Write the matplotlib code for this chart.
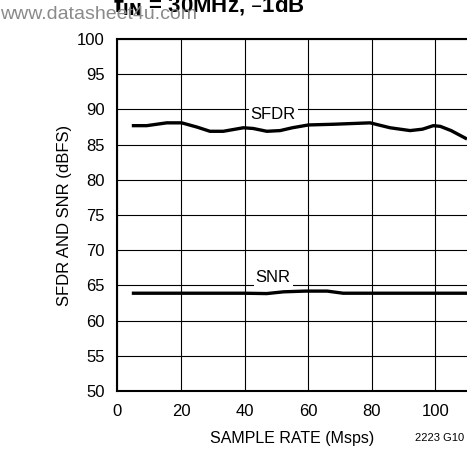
import matplotlib
matplotlib.use("Agg")
import matplotlib.pyplot as plt

plt.rcParams['font.family'] = ['Liberation Sans', 'DejaVu Sans']

# SFDR curve
sfdr_x = [4.5, 9.2, 15.5, 20.2, 25, 29.1, 33.3, 39.6, 42.7, 47, 51.2, 55, 60.1, 68, 79.5, 85.8, 92.1, 96, 99.4, 101.6, 105, 110]
sfdr_y = [87.7, 87.7, 88.1, 88.1, 87.5, 86.9, 86.9, 87.4, 87.3, 86.9, 87.0, 87.4, 87.8, 87.9, 88.1, 87.4, 87.0, 87.2, 87.7, 87.6, 87.0, 85.8]

# SNR curve
snr_x = [4.5, 20, 39.6, 47, 52.3, 59, 66, 71, 80, 100, 110]
snr_y = [63.9, 63.9, 63.9, 63.85, 64.1, 64.2, 64.2, 63.9, 63.9, 63.9, 63.9]

x_ticks = [0, 20, 40, 60, 80, 100]
y_ticks = [50, 55, 60, 65, 70, 75, 80, 85, 90, 95, 100]

fig = plt.figure(figsize=(4.67, 4.49), dpi=100)
ax = fig.add_axes([0.2516, 0.129, 0.7484, 0.784])

ax.plot(sfdr_x, sfdr_y, color='black', lw=2.4, solid_capstyle='butt', zorder=3)
ax.plot(snr_x, snr_y, color='black', lw=2.4, solid_capstyle='butt', zorder=3)

ax.set_xlim(0, 110)
ax.set_ylim(50, 100)
ax.set_xticks(x_ticks)
ax.set_yticks(y_ticks)
ax.tick_params(length=0, labelsize=12)
ax.tick_params(axis='x', pad=9)
ax.tick_params(axis='y', pad=9)
ax.grid(True, color='black', lw=0.8)
ax.set_axisbelow(True)
for side in ['left', 'bottom', 'top']:
    ax.spines[side].set_linewidth(1.5)
ax.spines['right'].set_visible(False)

ax.text(49, 89.3, 'SFDR', ha='center', va='center', fontsize=12,
        bbox=dict(facecolor='white', edgecolor='none', pad=1.5), zorder=2)
ax.text(49, 66.1, 'SNR', ha='center', va='center', fontsize=12,
        bbox=dict(facecolor='white', edgecolor='none', pad=1.5), zorder=2)

ax.set_xlabel('SAMPLE RATE (Msps)', fontsize=11.5, labelpad=9)
ax.set_ylabel('SFDR AND SNR (dBFS)', fontsize=12, labelpad=4)

fig.text(440 / 467, 1 - 438 / 449, '2223 G10', fontsize=8, ha='center', va='center')
fig.text(209 / 467, 1 - 12 / 449, r'$\mathbf{f_{IN}}$ = 30MHz, –1dB', fontsize=16,
         fontweight='bold', ha='center', va='baseline')
fig.text(0.0, 1 - 19 / 449, 'www.datasheet4u.com', fontsize=14, color='#8a8a8a',
         ha='left', va='baseline')

fig.savefig('out.png', dpi=100)
